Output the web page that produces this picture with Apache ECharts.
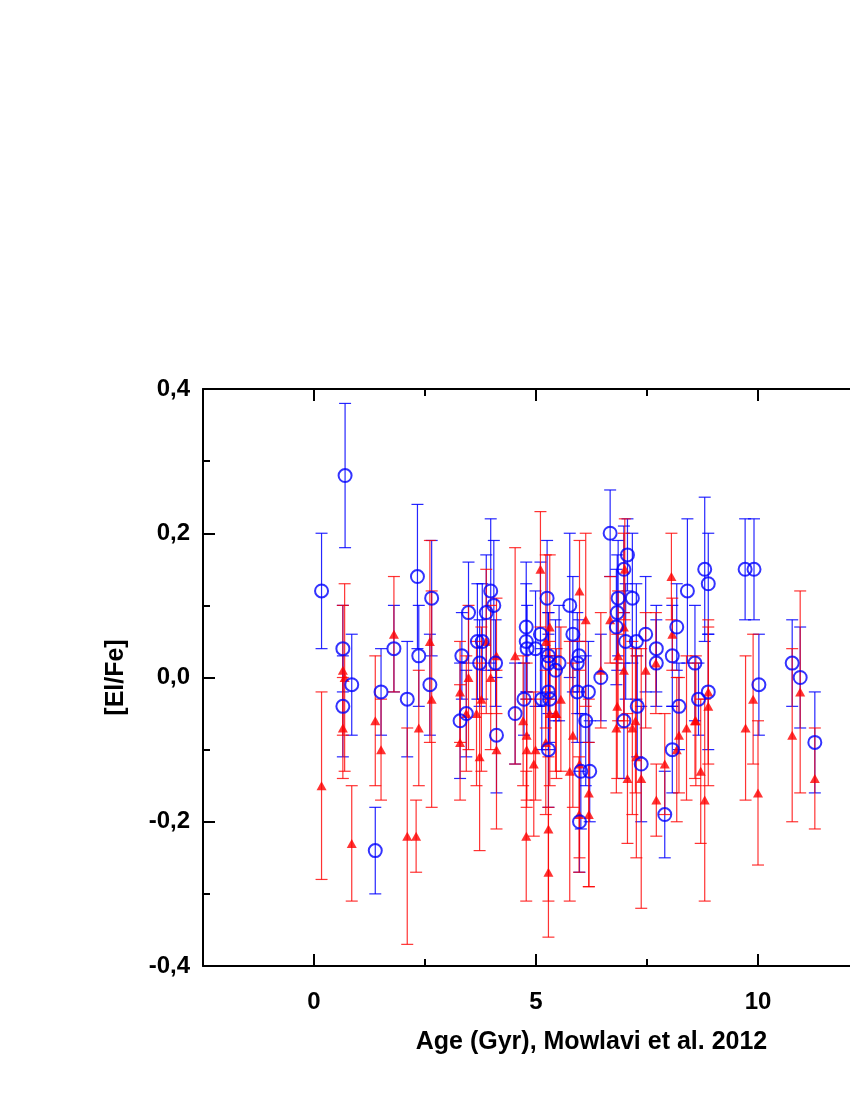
<!DOCTYPE html>
<html>
<head>
<meta charset="utf-8">
<script src="https://cdn.jsdelivr.net/npm/echarts@6/dist/echarts.min.js"></script>
<style>
  html, body { margin: 0; padding: 0; background: #fff; overflow: hidden; }
  #chart { width: 1000px; height: 1100px; }
</style>
</head>
<body>
<div id="chart"></div>
<script>
// blue open circles: age, [El/Fe], error
var blueX = [0.17, 0.70, 0.65, 0.65, 0.85, 1.38, 1.51, 1.80, 2.10, 2.33, 2.36, 2.61, 2.65, 3.29, 3.33, 3.43, 3.48, 3.68, 3.73, 3.79,
  3.88, 3.98, 4.05, 4.09, 4.11, 4.53, 4.73, 4.78, 4.78, 4.80, 4.99, 5.10, 5.13, 5.25, 5.28, 5.28, 5.28, 5.31, 5.28, 5.44,
  5.52, 5.76, 5.83, 5.93, 5.97, 5.93, 6.12, 6.01, 6.21, 5.98, 6.18, 6.46, 6.67, 6.81, 6.83, 6.85, 6.98, 7.06, 7.02, 6.98,
  7.17, 7.26, 7.28, 7.37, 7.47, 7.71, 7.71, 7.90, 8.07, 8.07, 8.17, 8.22, 8.41, 8.58, 8.66, 8.80, 8.88, 8.88, 9.71, 9.91,
  10.02, 10.77, 10.95, 11.28];
var blueY = [0.12, 0.28, 0.04, -0.04, -0.01, -0.24, -0.02, 0.04, -0.03, 0.14, 0.03, -0.01, 0.11, -0.06, 0.03, -0.05, 0.09, 0.05, 0.02, 0.05,
  0.09, 0.12, 0.10, 0.02, -0.08, -0.05, -0.03, 0.07, 0.05, 0.04, 0.04, 0.06, -0.03, 0.11, 0.03, 0.02, -0.02, -0.03, -0.10, 0.01,
  0.02, 0.10, 0.06, 0.02, 0.03, -0.02, -0.06, -0.13, -0.13, -0.20, -0.02, 0.00, 0.20, 0.07, 0.09, 0.11, 0.15, 0.17, 0.05, -0.06,
  0.11, 0.05, -0.04, -0.12, 0.06, 0.04, 0.02, -0.19, 0.03, -0.10, 0.07, -0.04, 0.12, 0.02, -0.03, 0.15, 0.13, -0.02, 0.15, 0.15,
  -0.01, 0.02, 0.00, -0.09];
var blueErr = [0.08, 0.10, 0.06, 0.07, 0.07, 0.06, 0.06, 0.06, 0.08, 0.10, 0.07, 0.07, 0.08, 0.08, 0.06, 0.06, 0.07, 0.08, 0.06, 0.08,
  0.08, 0.10, 0.09, 0.06, 0.08, 0.07, 0.05, 0.09, 0.08, 0.06, 0.08, 0.10, 0.07, 0.08, 0.06, 0.07, 0.08, 0.06, 0.08, 0.07,
  0.08, 0.10, 0.08, 0.07, 0.05, 0.07, 0.09, 0.08, 0.07, 0.07, 0.07, 0.06, 0.06, 0.08, 0.08, 0.08, 0.06, 0.05, 0.08, 0.08,
  0.09, 0.08, 0.07, 0.08, 0.08, 0.06, 0.06, 0.06, 0.07, 0.06, 0.06, 0.06, 0.10, 0.08, 0.05, 0.10, 0.07, 0.08, 0.07, 0.07,
  0.07, 0.06, 0.07, 0.07];

// red filled triangles: age, [El/Fe], error
var redX = [0.17, 0.65, 0.69, 0.65, 0.85, 1.38, 1.51, 1.80, 2.10, 2.30, 2.36, 2.61, 2.65, 3.29, 3.29, 3.43, 3.48, 3.66, 3.73, 3.77,
  3.88, 3.98, 4.11, 4.11, 4.53, 4.71, 4.79, 4.79, 4.78, 4.99, 4.95, 5.10, 5.22, 5.22, 5.28, 5.28, 5.31, 5.31, 5.44, 5.46,
  5.56, 5.76, 5.83, 5.97, 5.98, 5.98, 6.12, 6.19, 6.19, 6.46, 6.67, 6.83, 6.81, 6.85, 6.98, 7.00, 6.98, 7.06, 7.17, 7.24,
  7.26, 7.37, 7.47, 7.70, 7.71, 7.90, 8.05, 8.07, 8.17, 8.22, 8.39, 8.58, 8.60, 8.71, 8.80, 8.88, 8.88, 9.72, 9.89, 10.00,
  10.77, 10.95, 11.28];
var redY = [-0.15, 0.01, 0.00, -0.07, -0.23, -0.06, -0.10, 0.06, -0.22, -0.22, -0.07, 0.05, -0.03, -0.02, -0.09, -0.05, 0.00, -0.05, -0.11, -0.03,
  0.05, 0.00, 0.03, -0.10, 0.03, -0.06, -0.08, -0.10, -0.22, -0.10, -0.12, 0.15, 0.05, -0.09, -0.21, -0.27, 0.07, -0.05, -0.05, -0.05,
  -0.03, -0.13, -0.08, -0.19, -0.12, 0.12, 0.08, -0.19, -0.16, 0.01, 0.08, -0.04, -0.07, 0.03, 0.07, 0.15, 0.01, -0.14, -0.07, -0.06,
  -0.11, -0.14, 0.01, 0.02, -0.17, -0.12, 0.14, 0.06, -0.10, -0.08, -0.07, -0.06, -0.06, -0.13, -0.17, -0.02, -0.04, -0.07, -0.03, -0.16,
  -0.08, -0.02, -0.14];
var redErr = [0.13, 0.09, 0.13, 0.07, 0.08, 0.09, 0.07, 0.08, 0.15, 0.05, 0.08, 0.14, 0.15, 0.07, 0.08, 0.08, 0.10, 0.10, 0.13, 0.10,
  0.10, 0.10, 0.08, 0.11, 0.15, 0.09, 0.10, 0.07, 0.09, 0.07, 0.10, 0.08, 0.12, 0.10, 0.10, 0.09, 0.10, 0.10, 0.08, 0.09,
  0.10, 0.18, 0.10, 0.08, 0.13, 0.07, 0.12, 0.10, 0.13, 0.08, 0.06, 0.10, 0.09, 0.09, 0.13, 0.07, 0.08, 0.09, 0.12, 0.10,
  0.14, 0.18, 0.08, 0.07, 0.05, 0.07, 0.06, 0.05, 0.10, 0.08, 0.10, 0.08, 0.09, 0.10, 0.14, 0.10, 0.11, 0.10, 0.09, 0.10,
  0.12, 0.14, 0.07];

// axis ticks
var xMajor = [0, 5, 10, 15];
var xMinor = [2.5, 7.5, 12.5];
var xLabels = [0, 5, 10];

function zip(xs, ys, es) {
  return xs.map(function (x, i) { return [x, ys[i], es[i]]; });
}
var blueData = zip(blueX, blueY, blueErr);
var redData = zip(redX, redY, redErr);

// vertical error bar with caps
function errorBar(color) {
  return function (params, api) {
    var x = api.value(0), y = api.value(1), e = api.value(2);
    var hi = api.coord([x, y + e]);
    var lo = api.coord([x, y - e]);
    var cap = 6;
    var style = { stroke: color, lineWidth: 1.2 };
    return {
      type: 'group',
      children: [
        { type: 'line', shape: { x1: hi[0], y1: hi[1], x2: lo[0], y2: lo[1] }, style: style },
        { type: 'line', shape: { x1: hi[0] - cap, y1: hi[1], x2: hi[0] + cap, y2: hi[1] }, style: style },
        { type: 'line', shape: { x1: lo[0] - cap, y1: lo[1], x2: lo[0] + cap, y2: lo[1] }, style: style }
      ]
    };
  };
}

var font = 'Liberation Sans, Arial, sans-serif';
var black = { color: '#000', width: 2 };

// one x axis per side for the long ticks, one more for the short ones
function xAxisAt(pos, ticks, len, main) {
  return {
    type: 'value', min: -2.5, max: 15, interval: 2.5, position: pos,
    name: main ? 'Age (Gyr), Mowlavi et al. 2012' : '', nameLocation: 'middle', nameGap: 64,
    nameTextStyle: { fontFamily: font, fontWeight: 'bold', fontSize: 25, color: '#000' },
    axisLine: { show: len > 8, onZero: false, lineStyle: black },
    axisTick: { inside: true, length: len, customValues: ticks, lineStyle: black },
    axisLabel: {
      show: main, margin: 24, customValues: xLabels,
      fontFamily: font, fontWeight: 'bold', fontSize: 24, color: '#000'
    },
    splitLine: { show: false }
  };
}

var chart = echarts.init(document.getElementById('chart'));
chart.setOption({
  animation: false,
  grid: { left: 203, top: 389, right: 20, bottom: 134 },
  xAxis: [
    xAxisAt('bottom', xMajor, 12, true),
    xAxisAt('top', xMajor, 12, false),
    xAxisAt('bottom', xMinor, 7, false),
    xAxisAt('top', xMinor, 7, false)
  ],
  yAxis: {
    type: 'value', min: -0.4, max: 0.4, interval: 0.2,
    name: '[El/Fe]', nameLocation: 'middle', nameGap: 74, nameRotate: 90,
    nameTextStyle: { fontFamily: font, fontWeight: 'bold', fontSize: 25, color: '#000' },
    axisLine: { show: true, onZero: false, lineStyle: black },
    axisTick: { inside: true, length: 12, lineStyle: black },
    minorTick: { show: true, splitNumber: 2, length: 7, lineStyle: black },
    axisLabel: {
      margin: 13, fontFamily: font, fontWeight: 'bold', fontSize: 24, color: '#000',
      formatter: function (v) { return v.toFixed(1).replace('.', ','); }
    },
    splitLine: { show: false }
  },
  series: [
    { type: 'custom', renderItem: errorBar('rgba(0,0,255,0.85)'), data: blueData, encode: { x: 0, y: 1 }, z: 1 },
    { type: 'custom', renderItem: errorBar('rgba(255,0,0,0.8)'), data: redData, encode: { x: 0, y: 1 }, z: 2 },
    {
      type: 'scatter', data: redData, symbol: 'triangle', symbolSize: [10, 9], z: 3,
      itemStyle: { color: '#ff0000' }
    },
    {
      type: 'scatter', data: blueData, symbol: 'circle', symbolSize: 13, z: 4,
      itemStyle: { color: 'rgba(0,0,0,0)', borderColor: '#0000ff', borderWidth: 2 }
    }
  ]
});
</script>
</body>
</html>
